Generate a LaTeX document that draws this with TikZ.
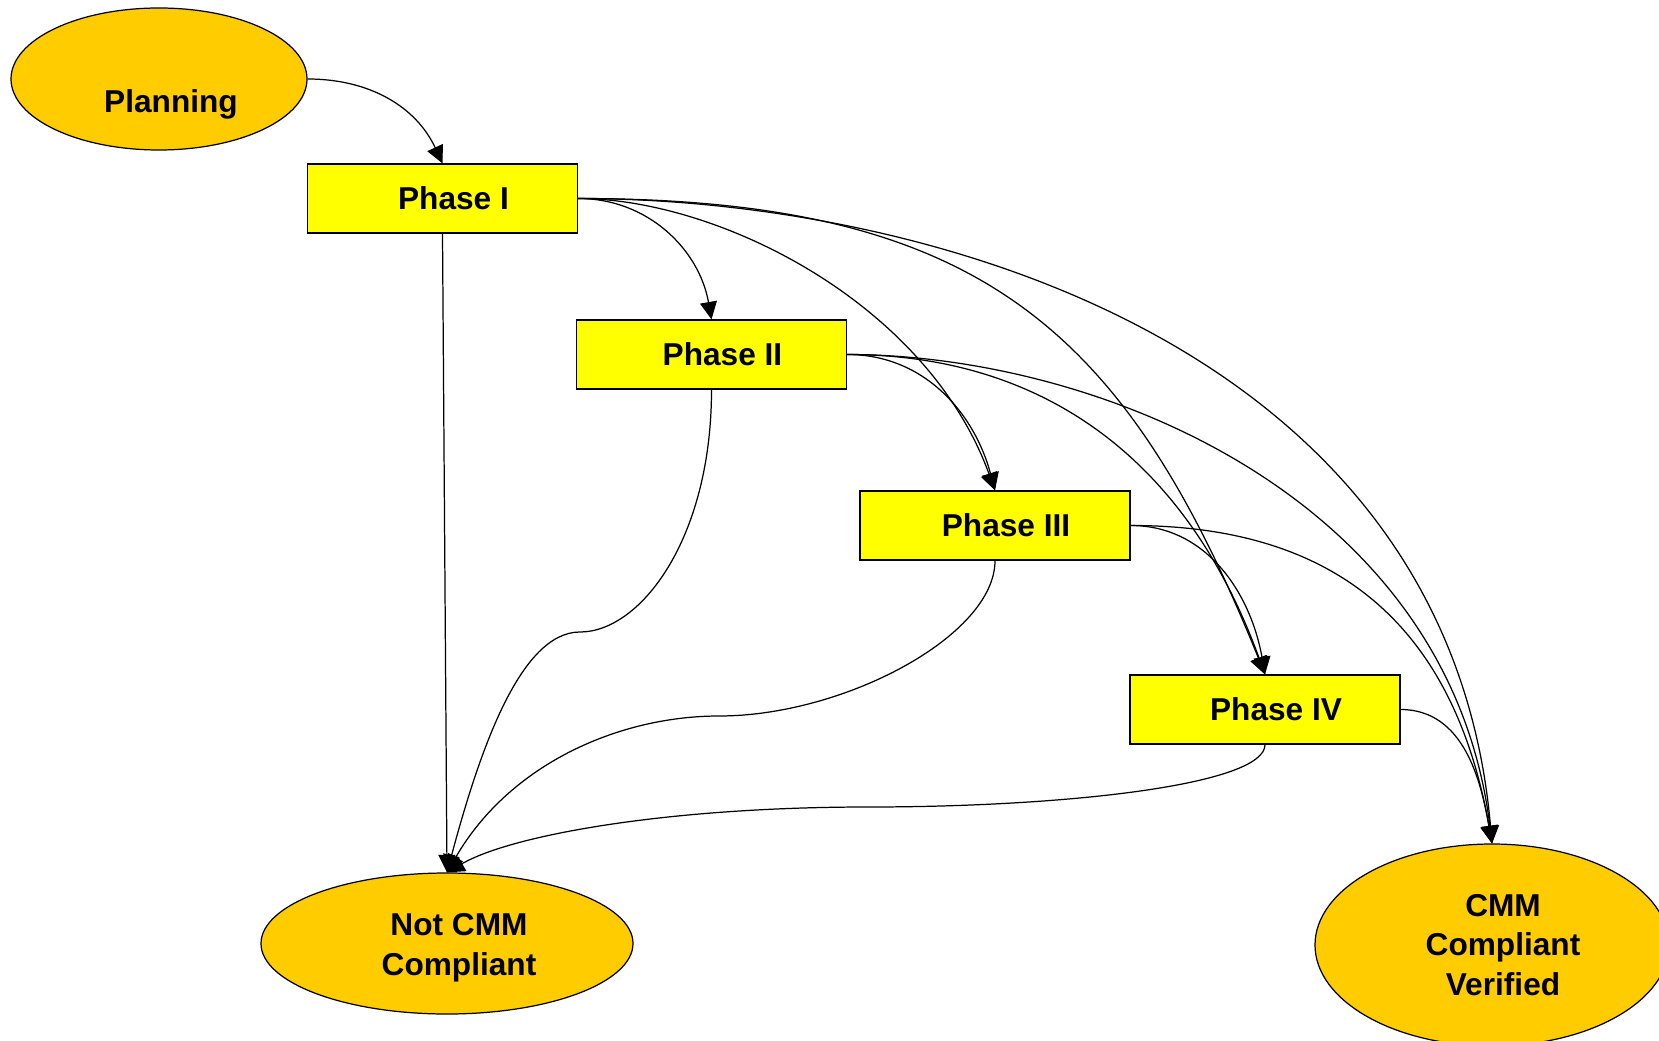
\documentclass[tikz,border=0pt]{standalone}
\usepackage{fontspec}
\setmainfont{Liberation Sans}
\usetikzlibrary{arrows.meta,shapes.geometric}
\definecolor{arancio}{HTML}{FFCC00}
\definecolor{giallo}{HTML}{FFFF00}

\begin{document}
\begin{tikzpicture}[
        ovale/.style={ellipse,draw,fill=arancio,line width=0.7pt,inner sep=0pt},
        fase/.style={rectangle,draw,fill=giallo,line width=0.7pt,inner sep=0pt,
            minimum width=5.4cm,minimum height=1.38cm,font=\fontsize{18}{22}\selectfont\bfseries},
        testo/.style={align=center,inner sep=0pt,font=\fontsize{18}{22.6}\selectfont\bfseries},
        freccia/.style={-{Triangle[length=3.5mm,width=3.4mm]},line width=0.7pt}
    ]
        \useasboundingbox (0,0) rectangle (33.18,20.8);

        %%%%%%%%%% Nodi %%%%%%%%%%
        \node[ovale,minimum width=5.92cm,minimum height=2.84cm] (plan) at (3.18,19.22) {};
        \node[fase] (f1) at (8.85,16.83) {\hspace*{0.44cm}Phase I};
        \node[fase] (f2) at (14.23,13.71) {\hspace*{0.44cm}Phase II};
        \node[fase] (f3) at (19.90,10.29) {\hspace*{0.44cm}Phase III};
        \node[fase] (f4) at (25.30,6.61) {\hspace*{0.44cm}Phase IV};
        \node[ovale,minimum width=7.44cm,minimum height=2.82cm] (notc) at (8.94,1.93) {};
        \node[ovale,minimum width=7.08cm,minimum height=4.04cm] (cmm) at (29.84,1.90) {};

        \node[testo] (plant) at (3.42,18.72) {Planning};
        \node[testo] (notct) at (9.18,1.85) {Not CMM\\Compliant};
        \node[testo] (cmmt) at (30.06,1.90) {CMM\\Compliant\\Verified};

        \coordinate (m2) at (11.60,8.16);
        \coordinate (m3) at (14.38,6.48);
        \coordinate (m4) at (17.36,4.66);

        %%%%%%%%% Frecce %%%%%%%%%
        \draw[freccia] (plan.east) to[out=0,in=115] (f1.north);
        \draw[freccia] (f1.east) to[out=0,in=100] (f2.north);
        \draw[freccia] (f1.east) to[out=0,in=110,out distance=2.8cm,in distance=4cm] (f3.north);
        \draw[freccia] (f1.east) to[out=0,in=112,out distance=8cm,in distance=7.5cm] (f4.north);
        \draw[freccia] (f1.east) to[out=0,in=95,out distance=7cm,in distance=10cm] (cmm.north);
        \draw[freccia] (f1.south) -- (notc.north);

        \draw[freccia] (f2.east) to[out=0,in=105] (f3.north);
        \draw[freccia] (f2.east) to[out=0,in=110,out distance=4cm,in distance=4.5cm] (f4.north);
        \draw[freccia] (f2.east) to[out=0,in=97,out distance=5cm,in distance=7cm] (cmm.north);
        \draw[freccia] (f2.south) to[out=-90,in=0,out distance=3cm,in distance=1.2cm] (m2)
            to[out=180,in=75,out distance=1.2cm,in distance=2.5cm] (notc.north);

        \draw[freccia] (f3.east) to[out=0,in=100] (f4.north);
        \draw[freccia] (f3.east) to[out=0,in=100,out distance=3.5cm,in distance=5cm] (cmm.north);
        \draw[freccia] (f3.south) to[out=-90,in=0,out distance=1.5cm,in distance=2.5cm] (m3)
            to[out=180,in=60,out distance=2cm,in distance=2.5cm] (notc.north);

        \draw[freccia] (f4.east) to[out=0,in=100] (cmm.north);
        \draw[freccia] (f4.south) to[out=-90,in=0,out distance=0.8cm,in distance=4cm] (m4)
            to[out=180,in=30,out distance=4cm,in distance=1.5cm] (notc.north);
    \end{tikzpicture}
\end{document}
